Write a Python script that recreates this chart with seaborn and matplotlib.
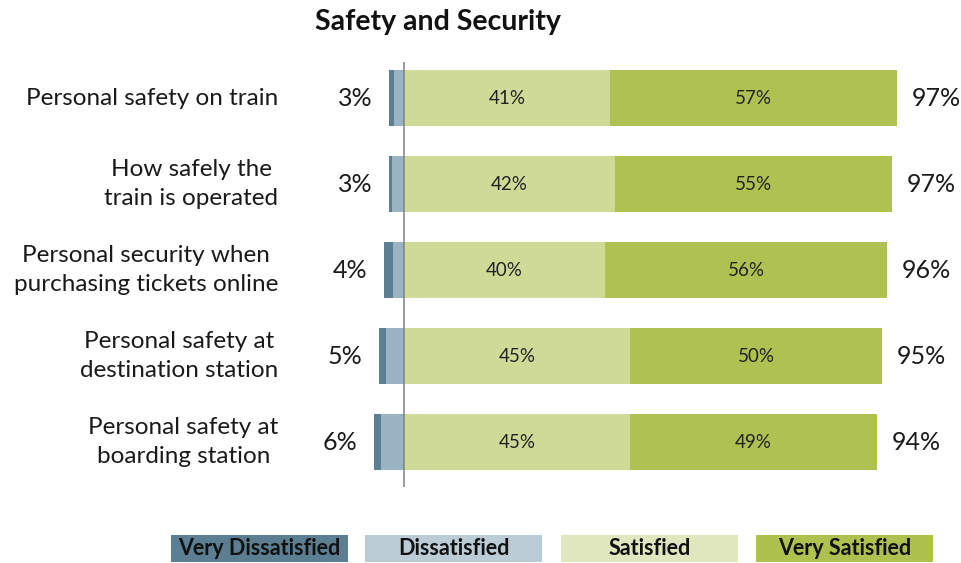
import matplotlib
matplotlib.use("Agg")
import matplotlib.pyplot as plt
import matplotlib.patches as mpatches
import seaborn as sns
import pandas as pd

# Survey results: share of respondents per rating, by item
categories = [
    "Personal safety on train",
    "How safely the\ntrain is operated",
    "Personal security when\npurchasing tickets online",
    "Personal safety at\ndestination station",
    "Personal safety at\nboarding station",
]
very_dissatisfied = [1.0, 0.7, 1.9, 1.5, 1.5]
dissatisfied = [2.0, 2.3, 2.1, 3.5, 4.5]
satisfied = [41, 42, 40, 45, 45]
very_satisfied = [57, 55, 56, 50, 49]
dissatisfied_total = [3, 3, 4, 5, 6]
satisfied_total = [97, 97, 96, 95, 94]

legend_labels = ["Very Dissatisfied", "Dissatisfied", "Satisfied", "Very Satisfied"]

bar_colors = ["#5B7F94", "#9BB3C3", "#D0DA97", "#AFC150"]
legend_colors = ["#5B7E92", "#BCCCD6", "#E0E7BE", "#AEC04D"]

df = pd.DataFrame({
    "item": categories,
    "vd": very_dissatisfied,
    "d": dissatisfied,
    "s": satisfied,
    "vs": very_satisfied,
})
# cumulative extents for the diverging stack
df["neg_outer"] = -(df["vd"] + df["d"])
df["neg_inner"] = -df["d"]
df["pos_outer"] = df["s"] + df["vs"]
df["pos_inner"] = df["s"]

sns.set_theme(style="white")
plt.rcParams["font.family"] = ["Lato", "DejaVu Sans"]

fig = plt.figure(figsize=(9.62, 5.63), dpi=100)
ax = fig.add_axes([343.6 / 962, 1 - 487 / 563, 563.4 / 962, 425 / 563])

bar_h = 0.65
for col, color in [("neg_outer", bar_colors[0]), ("neg_inner", bar_colors[1]),
                   ("pos_outer", bar_colors[3]), ("pos_inner", bar_colors[2])]:
    sns.barplot(data=df, y="item", x=col, color=color, orient="h",
                width=bar_h, linewidth=0, saturation=1, ax=ax)

ax.set_xlim(-12, 100)
ax.set_ylim(4.52, -0.42)
ax.axvline(0, color="#808080", lw=1.1)
for s in ax.spines.values():
    s.set_visible(False)
ax.set_xticks([])
ax.set_xlabel("")
ax.set_ylabel("")
ax.tick_params(axis="y", length=0, pad=47)
for lab in ax.get_yticklabels():
    lab.set_fontsize(17.5)
    lab.set_multialignment("center")
    lab.set_verticalalignment("center")
    lab.set_linespacing(1.45)
    lab.set_color("#1a1a1a")

for i in range(len(categories)):
    # segment values inside the positive bars
    ax.text(satisfied[i] / 2, i, f"{satisfied[i]}%", ha="center", va="center",
            fontsize=13.5, color="#222222")
    ax.text(satisfied[i] + very_satisfied[i] / 2, i, f"{very_satisfied[i]}%",
            ha="center", va="center", fontsize=13.5, color="#222222")
    # totals at both ends
    ax.text(df["neg_outer"][i] - 3.3, i, f"{dissatisfied_total[i]}%", ha="right",
            va="center", fontsize=18, color="#1a1a1a", clip_on=False)
    ax.text(df["pos_outer"][i] + 2.9, i, f"{satisfied_total[i]}%", ha="left",
            va="center", fontsize=18, color="#1a1a1a", clip_on=False)

fig.text(438 / 962, 1 - 22 / 563, "Safety and Security", ha="center", va="center",
         fontsize=20.5, fontweight="bold", color="#111111")

# legend as coloured boxes with the label inside
box_x = [171, 365, 561, 756]
box_w = 177
box_y0, box_y1 = 535, 562
for x0, lab, c in zip(box_x, legend_labels, legend_colors):
    rect = mpatches.Rectangle((x0 / 962, 1 - box_y1 / 563), box_w / 962,
                              (box_y1 - box_y0) / 563, transform=fig.transFigure,
                              facecolor=c, edgecolor="none")
    fig.add_artist(rect)
    fig.text((x0 + box_w / 2) / 962, 1 - (box_y0 + box_y1) / 2 / 563, lab,
             ha="center", va="center", fontsize=15.5, fontweight="bold",
             color="#111111")

fig.savefig("out.png", dpi=100)
